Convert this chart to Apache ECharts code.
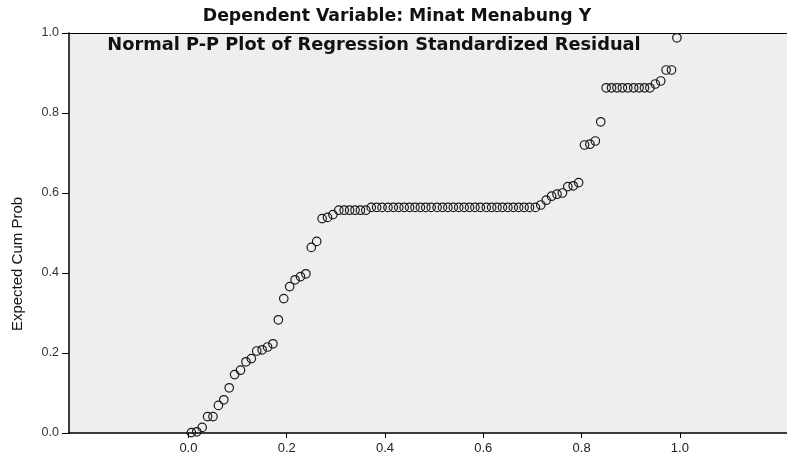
<!DOCTYPE html>
<html>
<head>
<meta charset="utf-8">
<script src="https://cdn.jsdelivr.net/npm/echarts@6/dist/echarts.min.js"></script>
<style>
html,body{margin:0;padding:0;background:#fff;}
#chart{width:787px;height:455px;}
</style>
</head>
<body>
<div id="chart"></div>
<script>
var titleTop = 'Dependent Variable: Minat Menabung Y';
var titlePlot = 'Normal P-P Plot of Regression Standardized Residual';
var yAxisName = 'Expected Cum Prob';
var xTickValues = [0, 0.2, 0.4, 0.6, 0.8, 1.0];

var observedCumProb = [
  0.006,0.017,0.028,0.039,0.050,0.061,0.072,0.083,0.094,0.106,
  0.117,0.128,0.139,0.150,0.161,0.172,0.183,0.194,0.206,0.217,
  0.228,0.239,0.250,0.261,0.272,0.283,0.294,0.306,0.317,0.328,
  0.339,0.350,0.361,0.372,0.383,0.394,0.406,0.417,0.428,0.439,
  0.450,0.461,0.472,0.483,0.494,0.506,0.517,0.528,0.539,0.550,
  0.561,0.572,0.583,0.594,0.606,0.617,0.628,0.639,0.650,0.661,
  0.672,0.683,0.694,0.706,0.717,0.728,0.739,0.750,0.761,0.772,
  0.783,0.794,0.806,0.817,0.828,0.839,0.850,0.861,0.872,0.883,
  0.894,0.906,0.917,0.928,0.939,0.950,0.961,0.972,0.983,0.994
];
var expectedCumProb = [
  0.001,0.003,0.014,0.041,0.041,0.069,0.083,0.113,0.146,0.157,
  0.178,0.186,0.205,0.208,0.215,0.223,0.283,0.336,0.366,0.383,
  0.391,0.398,0.464,0.479,0.536,0.539,0.546,0.557,0.557,0.557,
  0.557,0.557,0.557,0.564,0.564,0.564,0.564,0.564,0.564,0.564,
  0.564,0.564,0.564,0.564,0.564,0.564,0.564,0.564,0.564,0.564,
  0.564,0.564,0.564,0.564,0.564,0.564,0.564,0.564,0.564,0.564,
  0.564,0.564,0.564,0.564,0.570,0.582,0.592,0.597,0.600,0.616,
  0.618,0.626,0.720,0.722,0.730,0.778,0.863,0.863,0.863,0.863,
  0.863,0.863,0.863,0.863,0.863,0.8725,0.880,0.9075,0.9075,0.988
];

var points = observedCumProb.map(function (x, i) { return [x, expectedCumProb[i]]; });

var chart = echarts.init(document.getElementById('chart'), null, {renderer: 'canvas'});
var titleFont = "'DejaVu Sans', 'Liberation Sans', Arial, sans-serif";
var tickFont = "'Liberation Sans', Arial, sans-serif";
chart.setOption({
  animation: false,
  backgroundColor: '#ffffff',
  graphic: [{
    type: 'text', x: 397, y: 17, z: 100,
    style: {text: titleTop, fontFamily: titleFont, fontWeight: 'bold', fontSize: 17.3,
            fill: '#111', align: 'center', verticalAlign: 'middle'}
  }, {
    type: 'text', x: 374, y: 45, z: 100,
    style: {text: titlePlot, fontFamily: titleFont, fontWeight: 'bold', fontSize: 17.8,
            fill: '#111', align: 'center', verticalAlign: 'middle'}
  }, {
    type: 'text', x: 18, y: 264, rotation: Math.PI / 2,
    style: {text: yAxisName, fontFamily: tickFont,
            fontSize: 15, fill: '#111', align: 'center', verticalAlign: 'middle'}
  }],
  grid: {left: 69, right: 0, top: 33, bottom: 22, show: true, backgroundColor: '#eeeeee', borderWidth: 0},
  xAxis: [{
    type: 'value', min: -0.243, max: 1.218, position: 'bottom',
    axisLine: {show: true, onZero: false, lineStyle: {color: '#000', width: 1.5}},
    axisTick: {show: true, length: 5, inside: false, customValues: xTickValues, lineStyle: {color: '#000'}},
    axisLabel: {customValues: xTickValues, margin: 9, fontFamily: tickFont, fontSize: 13, color: '#222',
      formatter: function (v) { return v.toFixed(1); }},
    splitLine: {show: false}
  }, {
    type: 'value', min: -0.243, max: 1.218, position: 'top',
    axisLine: {show: true, onZero: false, lineStyle: {color: '#000', width: 1.2}},
    axisTick: {show: false}, axisLabel: {show: false}, splitLine: {show: false}
  }],
  yAxis: {
    type: 'value', min: 0, max: 1, interval: 0.2,
    axisLine: {show: true, onZero: false, lineStyle: {color: '#000', width: 1.5}},
    axisTick: {show: true, length: 7, lineStyle: {color: '#000'}},
    axisLabel: {margin: 10, fontFamily: tickFont, fontSize: 12.5, color: '#333',
      formatter: function (v) { return v.toFixed(1); }},
    splitLine: {show: false}
  },
  series: [{
    type: 'scatter', xAxisIndex: 0, data: points, symbol: 'circle', symbolSize: 8.5,
    itemStyle: {color: 'rgba(0,0,0,0)', borderColor: '#1a1a1a', borderWidth: 1.2, opacity: 1},
    clip: false
  }]
});
</script>
</body>
</html>
